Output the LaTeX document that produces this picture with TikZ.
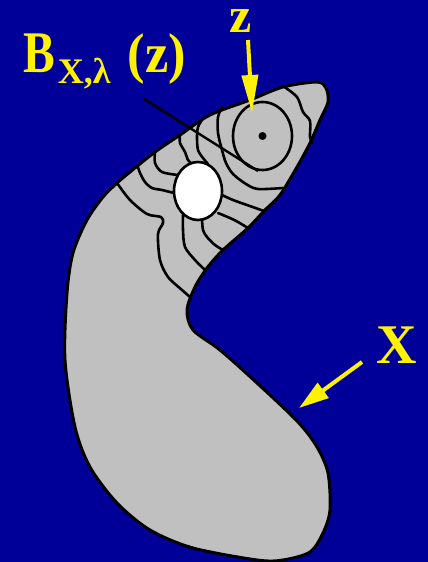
\documentclass[tikz,border=0pt]{standalone}
\usepackage{fontspec}
\setmainfont{Liberation Serif}
\usetikzlibrary{arrows.meta}
\definecolor{navy}{RGB}{0,0,153}
\definecolor{silver}{RGB}{192,192,192}

\begin{document}
\begin{tikzpicture}[x=1pt, y=-1pt,
    levelline/.style={line width=2.6pt, line join=round, line cap=round},
    pointer/.style={yellow, line width=4pt},
    tag/.style={yellow, inner sep=0pt, font=\bfseries\fontsize{50}{50}\selectfont}]
    % Background
    \fill[navy] (0,0) rectangle (428,562);
    \useasboundingbox (0,0) rectangle (428,562);
    % The set X
    \filldraw[fill=silver, levelline, line width=3pt] plot[smooth cycle, tension=0.5] coordinates {
        (117,183) (130,172) (155,152) (180,135) (210,115) (250,100) (283,87)
        (317,82) (326,88) (328,102) (320,120) (310,143) (297,167) (280,195)
        (265,210) (248,228) (223,250) (207,268) (195,287) (187,310) (193,330)
        (220,350) (257,383) (298,422) (317,447) (328,473) (330,510) (323,533)
        (310,552) (283,560) (257,560) (193,548) (150,530) (117,503) (90,467)
        (75,427) (65,360) (67,293) (73,253) (87,220) (103,197)};
    % Level lines round z
    \draw[levelline] plot[smooth] coordinates {(283,86) (297,97) (303,112) (310,121) (310,137) (312,143)};
    \draw[levelline] plot[smooth] coordinates {(222,107) (218,117) (218,133) (222,150) (226,163)
        (233,174) (246,184) (258,189) (283,188)};
    \draw[levelline] plot[smooth] coordinates {(202,120) (198,127) (197,137) (198,150) (203,158) (208,164)};
    \draw[levelline] plot[smooth] coordinates {(180,135) (180,143) (185,152) (188,160) (192,164)};
    \draw[levelline] plot[smooth] coordinates {(155,152) (155,163) (162,172) (178,175)};
    \draw[levelline] plot[smooth] coordinates {(138,167) (140,173) (145,182) (152,188) (162,190) (174,193)};
    \draw[levelline] plot[smooth] coordinates {(117,183) (130,200) (147,214) (161,217) (163,223)
        (158,234) (160,260) (168,277) (182,290) (190,297)};
    \draw[levelline] plot[smooth] coordinates {(222,195) (233,200) (247,205) (264,211)};
    \draw[levelline] plot[smooth] coordinates {(218,213) (230,218) (238,222) (248,228)};
    \draw[levelline] plot[smooth] coordinates {(202,219) (203,230) (207,237) (215,245) (223,250)};
    \draw[levelline] plot[smooth] coordinates {(183,215) (183,230) (185,247) (195,260) (205,270)};
    % Hole
    \filldraw[fill=white, levelline] (198,191) ellipse [x radius=24, y radius=29];
    % Ball round z
    \draw[levelline] (262.5,136) ellipse [x radius=29.5, y radius=34];
    \fill (262.5,136) circle (4);
    % Labels
    \node[tag, anchor=base west] (ball) at (23,72)
        {\scalebox{0.95}[1.18]{B}\hspace{3pt}\raisebox{-11pt}{\fontsize{36}{36}\selectfont X,λ}\hspace{17pt}\scalebox{1.05}[1.12]{(z)}};
    \node[tag, anchor=base] (zlab) at (241,32) {z};
    \node[tag, anchor=base, font=\bfseries\fontsize{56}{56}\selectfont] (xlab) at (397,363) {X};
    \coordinate (ballstart) at (144,99);
    \coordinate (ballend) at (258,171);
    \coordinate (ztail) at (248,40);
    \coordinate (ztip) at (252,113);
    \coordinate (xtail) at (362,362);
    \coordinate (xtip) at (299,408);
    % Pointers
    \draw[line width=2.4pt] (ballstart) -- (ballend);
    \draw[pointer, -{Triangle[length=38pt, width=16pt]}] (ztail) -- (ztip);
    \draw[pointer, -{Triangle[length=30pt, width=18pt]}] (xtail) -- (xtip);
\end{tikzpicture}
\end{document}
